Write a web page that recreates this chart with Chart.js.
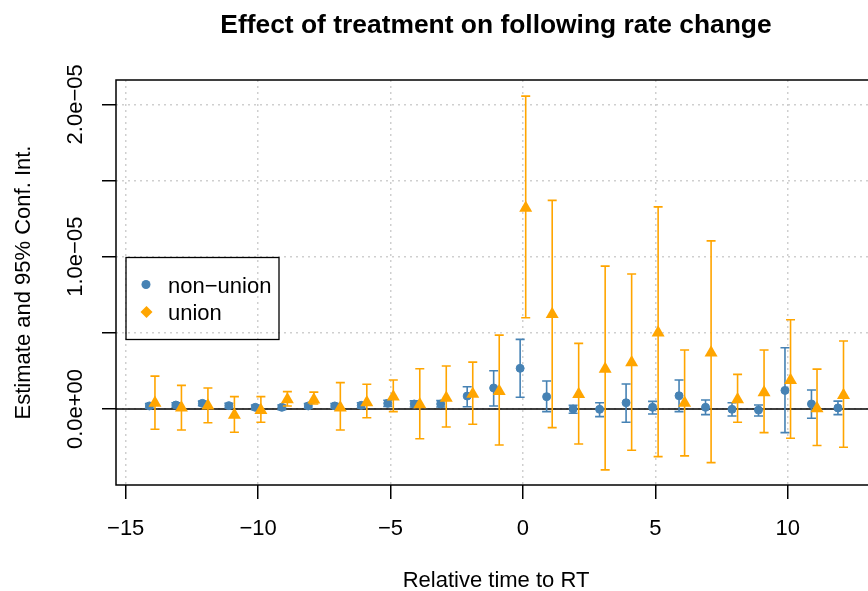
<!DOCTYPE html>
<html>
<head>
<title>Effect of treatment on following rate change</title>
<script src="https://cdn.jsdelivr.net/npm/chart.js"></script>
<style>
  body { margin: 0; background: #fff; }
</style>
</head>
<body>
<canvas id="chart" width="868" height="591"></canvas>
<script>
// relative periods
const periods = [-14, -13, -12, -11, -10, -9, -8, -7, -6, -5, -4, -3, -2, -1,
                 0, 1, 2, 3, 4, 5, 6, 7, 8, 9, 10, 11, 12];

// non-union estimates and 95% CI
const nonUnionEst = [2.0e-7, 2.6e-7, 3.7e-7, 2.2e-7, 1.1e-7, 1.1e-7, 2.0e-7, 2.0e-7, 2.4e-7, 3.7e-7, 3.3e-7, 3.3e-7, 8.5e-7, 1.38e-6,
                     2.67e-6, 8.1e-7, 0.0, -2e-8, 4.1e-7, 1.1e-7, 8.7e-7, 1.1e-7, -2e-8, -7e-8, 1.22e-6, 3.3e-7, 7e-8];
const nonUnionLo  = [5e-8, 1.1e-7, 2.2e-7, 7e-8, -4e-8, -4e-8, 5e-8, 5e-8, 7e-8, 1.7e-7, 1.3e-7, 1.3e-7, 1.5e-7, 2.0e-7,
                     7.7e-7, -1.7e-7, -2.8e-7, -5.0e-7, -8.7e-7, -3.3e-7, -1.7e-7, -3.7e-7, -4.6e-7, -4.6e-7, -1.55e-6, -6.1e-7, -3.7e-7];
const nonUnionHi  = [3.5e-7, 4.1e-7, 5.2e-7, 3.7e-7, 2.6e-7, 2.6e-7, 3.5e-7, 3.5e-7, 4.1e-7, 5.7e-7, 5.3e-7, 5.5e-7, 1.46e-6, 2.51e-6,
                     4.57e-6, 1.84e-6, 2.4e-7, 4.1e-7, 1.64e-6, 5.0e-7, 1.90e-6, 5.9e-7, 4.1e-7, 2.6e-7, 4.02e-6, 1.25e-6, 5.2e-7];

// union estimates and 95% CI
const unionEst = [4.0e-7, 8e-8, 2.2e-7, -4.0e-7, -8e-8, 6.2e-7, 6.0e-7, 8e-8, 4.2e-7, 8.0e-7, 3.0e-7, 7.3e-7, 9.8e-7, 1.16e-6,
                  1.320e-5, 6.22e-6, 9.7e-7, 2.62e-6, 3.05e-6, 5.00e-6, 4.0e-7, 3.70e-6, 6.2e-7, 1.08e-6, 1.88e-6, 3e-8, 9.1e-7];
const unionLo  = [-1.33e-6, -1.38e-6, -9.0e-7, -1.53e-6, -8.7e-7, 2.0e-7, 3.3e-7, -1.38e-6, -5.7e-7, -1.7e-7, -1.95e-6, -1.18e-6, -1.00e-6, -2.36e-6,
                  5.99e-6, -1.22e-6, -2.30e-6, -4.00e-6, -2.71e-6, -3.13e-6, -3.08e-6, -3.52e-6, -8.7e-7, -1.55e-6, -1.92e-6, -2.40e-6, -2.51e-6];
const unionHi  = [2.16e-6, 1.55e-6, 1.38e-6, 8.1e-7, 8.1e-7, 1.14e-6, 1.11e-6, 1.73e-6, 1.62e-6, 1.90e-6, 2.64e-6, 2.82e-6, 3.08e-6, 4.85e-6,
                  2.054e-5, 1.370e-5, 4.31e-6, 9.38e-6, 8.86e-6, 1.327e-5, 3.87e-6, 1.104e-5, 2.27e-6, 3.87e-6, 5.86e-6, 2.62e-6, 4.46e-6];

// series shift so both groups can be seen side by side
const DODGE = 0.105;

// axis ticks
const xTickStep = 5;
const yTickStep = 0.5e-5;
const yLabelValues = [0, 1e-5, 2e-5];
const yLabelTexts = ['0.0e+00', '1.0e\u221205', '2.0e\u221205'];

const FONT = '"Liberation Sans", Arial, Helvetica, sans-serif';
const BLUE = '#4682B4';
const ORANGE = '#FFA500';

function points(est, shift) {
    return periods.map((p, i) => ({ x: p + shift, y: est[i] }));
}
function intervals(lo, hi, shift) {
    return periods.map((p, i) => [p + shift, lo[i], hi[i]]);
}

// R-like decorations: error bars, zero line, box, rotated y labels, titles, legend
const rStyle = {
    id: 'rStyle',
    beforeDatasetsDraw(chart) {
        const { ctx, chartArea: a, scales: { y } } = chart;
        const y0 = y.getPixelForValue(0);
        ctx.save();
        ctx.strokeStyle = '#000';
        ctx.lineWidth = 1.5;
        ctx.beginPath();
        ctx.moveTo(a.left, y0);
        ctx.lineTo(a.right, y0);
        ctx.stroke();
        ctx.restore();
    },
    beforeDatasetDraw(chart, args) {
        const ds = chart.data.datasets[args.index];
        const { ctx, scales: { x, y } } = chart;
        ctx.save();
        ctx.strokeStyle = ds.borderColor;
        ctx.lineWidth = 1.6;
        ds.ci.forEach(([xv, lo, hi]) => {
            const px = x.getPixelForValue(xv);
            const p1 = y.getPixelForValue(lo);
            const p2 = y.getPixelForValue(hi);
            ctx.beginPath();
            ctx.moveTo(px, p1); ctx.lineTo(px, p2);
            ctx.moveTo(px - 4.5, p1); ctx.lineTo(px + 4.5, p1);
            ctx.moveTo(px - 4.5, p2); ctx.lineTo(px + 4.5, p2);
            ctx.stroke();
        });
        ctx.restore();
    },
    afterDraw(chart) {
        const { ctx, chartArea: a, scales: { y } } = chart;
        ctx.save();
        ctx.strokeStyle = '#000';
        ctx.lineWidth = 1.5;
        ctx.strokeRect(a.left, a.top, a.right - a.left + 20, a.bottom - a.top);

        ctx.fillStyle = '#000';
        ctx.font = '22px ' + FONT;
        ctx.textAlign = 'center';
        ctx.textBaseline = 'alphabetic';
        yLabelValues.forEach((v, i) => {
            ctx.save();
            ctx.translate(82, y.getPixelForValue(v));
            ctx.rotate(-Math.PI / 2);
            ctx.fillText(yLabelTexts[i], 0, 0);
            ctx.restore();
        });

        ctx.save();
        ctx.translate(30, (a.top + a.bottom) / 2);
        ctx.rotate(-Math.PI / 2);
        ctx.fillText('Estimate and 95% Conf. Int.', 0, 0);
        ctx.restore();

        ctx.fillText('Relative time to RT', 496, 587);

        ctx.font = 'bold 26.4px ' + FONT;
        ctx.fillText('Effect of treatment on following rate change', 496, 33);

        // legend
        ctx.lineWidth = 1.3;
        ctx.strokeRect(126, 257.5, 153, 82);
        ctx.fillStyle = BLUE;
        ctx.beginPath();
        ctx.arc(146, 284.5, 4.5, 0, Math.PI * 2);
        ctx.fill();
        ctx.fillStyle = ORANGE;
        ctx.beginPath();
        ctx.moveTo(146.5, 306); ctx.lineTo(152.5, 312); ctx.lineTo(146.5, 318); ctx.lineTo(140.5, 312);
        ctx.closePath();
        ctx.fill();
        ctx.fillStyle = '#000';
        ctx.font = '22px ' + FONT;
        ctx.textAlign = 'left';
        ctx.fillText('non\u2212union', 168, 292.5);
        ctx.fillText('union', 168, 320);
        ctx.restore();
    }
};

const gridStyle = { color: '#cfcfcf', lineWidth: 1.5, tickColor: '#000', tickLength: 14, tickWidth: 1.5 };

new Chart(document.getElementById('chart'), {
    type: 'scatter',
    data: {
        datasets: [
            {
                label: 'non\u2212union',
                data: points(nonUnionEst, -DODGE),
                ci: intervals(nonUnionLo, nonUnionHi, -DODGE),
                borderColor: BLUE,
                backgroundColor: BLUE,
                pointStyle: 'circle',
                pointRadius: 4,
                borderWidth: 1,
                order: 2
            },
            {
                label: 'union',
                data: points(unionEst, DODGE),
                ci: intervals(unionLo, unionHi, DODGE),
                borderColor: ORANGE,
                backgroundColor: ORANGE,
                pointStyle: 'triangle',
                pointRadius: 7.5,
                borderWidth: 0,
                order: 1
            }
        ]
    },
    options: {
        responsive: false,
        animation: false,
        devicePixelRatio: 1,
        layout: { autoPadding: false, padding: { top: 80, right: 0, left: 0, bottom: 0 } },
        plugins: {
            legend: { display: false },
            tooltip: { enabled: false },
            title: { display: false }
        },
        scales: {
            x: {
                type: 'linear',
                min: -15.366,
                max: 13.03,
                afterFit(scale) { scale.height = 106; scale.paddingLeft = 0; scale.paddingRight = 0; },
                ticks: {
                    stepSize: xTickStep,
                    includeBounds: false,
                    autoSkip: false,
                    maxRotation: 0,
                    padding: 17,
                    color: '#000',
                    font: { family: FONT, size: 22 },
                    callback: v => String(v).replace('-', '\u2212')
                },
                grid: gridStyle,
                border: { display: false, dash: [2, 4] }
            },
            y: {
                type: 'linear',
                min: -0.499e-5,
                max: 2.160e-5,
                afterFit(scale) { scale.width = 116; scale.paddingTop = 0; scale.paddingBottom = 0; },
                ticks: { stepSize: yTickStep, includeBounds: false, display: false },
                grid: gridStyle,
                border: { display: false, dash: [2, 4] }
            }
        }
    },
    plugins: [rStyle]
});
</script>
</body>
</html>
